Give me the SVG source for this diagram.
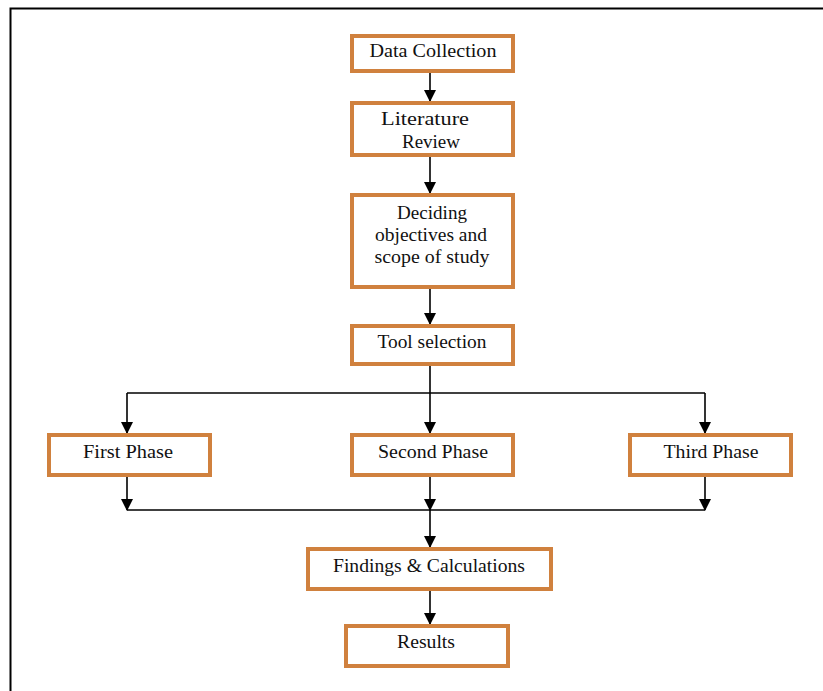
<svg xmlns="http://www.w3.org/2000/svg" width="823" height="691" viewBox="0 0 823 691">
<defs>
<marker id="ah" markerUnits="userSpaceOnUse" markerWidth="12" markerHeight="12" viewBox="0 0 12 12" refX="11" refY="6" orient="auto">
<path d="M0,0 L12,6 L0,12 Z" fill="#000"/>
</marker>
<style>
.box{fill:#fff;stroke:#D0813E;stroke-width:4}
.t{font-family:"Liberation Serif","Times New Roman",serif;font-size:18px;fill:#111;text-anchor:middle}
.c{fill:none;stroke:#000;stroke-width:1.6}
.a{marker-end:url(#ah)}
</style>
</defs>
<rect width="823" height="691" fill="#fff"/>
<path d="M10.5,691 V8.5 H823" fill="none" stroke="#000" stroke-width="2"/>
<g id="connectors">
<line class="c a" x1="430" y1="73" x2="430" y2="101"/>
<line class="c a" x1="430" y1="157" x2="430" y2="193"/>
<line class="c a" x1="430" y1="289" x2="430" y2="324"/>
<line class="c" x1="430" y1="366" x2="430" y2="393"/>
<line class="c" x1="127" y1="393" x2="705" y2="393"/>
<line class="c a" x1="127" y1="393" x2="127" y2="433"/>
<line class="c a" x1="430" y1="393" x2="430" y2="433"/>
<line class="c a" x1="705" y1="393" x2="705" y2="433"/>
<line class="c a" x1="127" y1="477" x2="127" y2="510"/>
<line class="c a" x1="430" y1="477" x2="430" y2="510"/>
<line class="c a" x1="705" y1="477" x2="705" y2="510"/>
<line class="c" x1="127" y1="510" x2="705" y2="510"/>
<line class="c a" x1="430" y1="510" x2="430" y2="547"/>
<line class="c a" x1="430" y1="591" x2="430" y2="624"/>
</g>
<g id="data-collection">
<rect class="box" x="352" y="36" width="161" height="35"/>
<text class="t" x="433" y="57" textLength="127" lengthAdjust="spacingAndGlyphs">Data Collection</text>
</g>
<g id="literature-review">
<rect class="box" x="352" y="103" width="161" height="52"/>
<text class="t" x="425" y="125" textLength="88" lengthAdjust="spacingAndGlyphs">Literature</text>
<text class="t" x="431" y="148" textLength="58" lengthAdjust="spacingAndGlyphs">Review</text>
</g>
<g id="deciding">
<rect class="box" x="352" y="195" width="161" height="92"/>
<text class="t" x="432" y="219" textLength="70" lengthAdjust="spacingAndGlyphs">Deciding</text>
<text class="t" x="431" y="241" textLength="112" lengthAdjust="spacingAndGlyphs">objectives and</text>
<text class="t" x="432" y="263" textLength="115" lengthAdjust="spacingAndGlyphs">scope of study</text>
</g>
<g id="tool-selection">
<rect class="box" x="352" y="326" width="161" height="38"/>
<text class="t" x="432" y="348" textLength="109" lengthAdjust="spacingAndGlyphs">Tool selection</text>
</g>
<g id="first-phase">
<rect class="box" x="49" y="435" width="161" height="40"/>
<text class="t" x="128" y="458" textLength="90" lengthAdjust="spacingAndGlyphs">First Phase</text>
</g>
<g id="second-phase">
<rect class="box" x="352" y="435" width="161" height="40"/>
<text class="t" x="433" y="458" textLength="110" lengthAdjust="spacingAndGlyphs">Second Phase</text>
</g>
<g id="third-phase">
<rect class="box" x="630" y="435" width="161" height="40"/>
<text class="t" x="711" y="458" textLength="95" lengthAdjust="spacingAndGlyphs">Third Phase</text>
</g>
<g id="findings">
<rect class="box" x="308" y="549" width="243" height="40"/>
<text class="t" x="429" y="572" textLength="192" lengthAdjust="spacingAndGlyphs">Findings &amp; Calculations</text>
</g>
<g id="results">
<rect class="box" x="346" y="626" width="162" height="40"/>
<text class="t" x="426" y="648" textLength="58" lengthAdjust="spacingAndGlyphs">Results</text>
</g>
</svg>
